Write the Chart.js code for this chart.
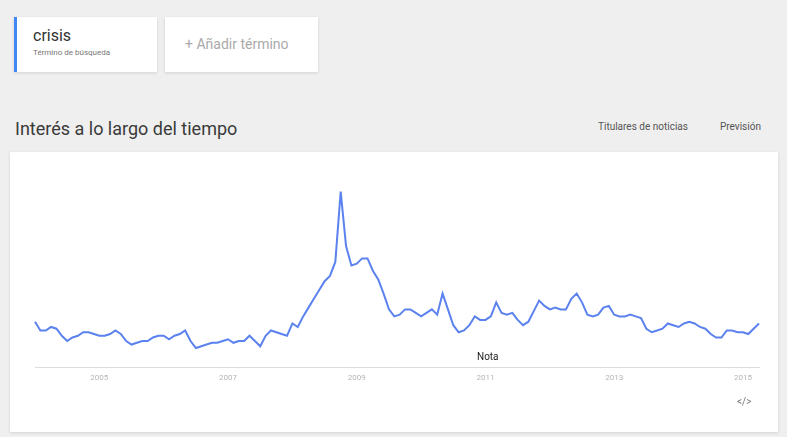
<!DOCTYPE html>
<html>
<head>
<meta charset="utf-8">
<style>
    body { margin: 0; width: 787px; height: 437px; background: #efefef; font-family: Roboto, Arial, sans-serif; position: relative; overflow: hidden; }
    .card { position: absolute; background: #fff; box-shadow: 0 1px 3px rgba(0,0,0,0.12); }
    .term { left: 14px; top: 17px; width: 143px; height: 55px; border-left: 3px solid #4285f4; box-sizing: border-box; }
    .term .name { position: absolute; left: 16px; top: 9px; font-size: 16px; color: #333; }
    .term .sub { position: absolute; left: 16px; top: 31px; font-size: 8px; color: #777; }
    .add { left: 165px; top: 17px; width: 153px; height: 55px; }
    .add span { position: absolute; left: 20px; top: 19px; font-size: 14px; color: #aaa; }
    .title { position: absolute; left: 15px; top: 118px; font-size: 18px; color: #3a3a3a; }
    .opts { position: absolute; top: 121px; font-size: 10px; color: #555; }
    .main { left: 10px; top: 152px; width: 768px; height: 280px; }
    .nota { position: absolute; left: 477px; top: 351px; font-size: 10px; color: #222; }
    .embed { position: absolute; left: 737px; top: 396px; font-size: 10px; color: #777; }
</style>
</head>
<body>
    <div class="card term"><div class="name">crisis</div><div class="sub">Término de búsqueda</div></div>
    <div class="card add"><span>+ Añadir término</span></div>
    <div class="title">Interés a lo largo del tiempo</div>
    <div class="opts" style="left:598px">Titulares de noticias</div>
    <div class="opts" style="left:720px">Previsión</div>
    <div class="card main"><canvas id="myChart" width="768" height="280"></canvas></div>
    <div class="nota">Nota</div>
    <div class="embed">&lt;/&gt;</div>

    <script src="https://cdn.jsdelivr.net/npm/chart.js"></script>
    <script>
        // datos mensuales, ene 2004 - abr 2015
        const months = [];
        for (let y = 2004; y <= 2015; y++) {
            for (let m = 1; m <= 12; m++) {
                if (y === 2015 && m > 4) break;
                months.push(y + '-' + String(m).padStart(2, '0'));
            }
        }

        const interest = [
            26, 21, 21, 23, 22, 18, 15, 17, 18, 20, 20, 19,
            18, 18, 19, 21, 19, 15, 13, 14, 15, 15, 17, 18,
            18, 16, 18, 19, 21, 15, 11, 12, 13, 14, 14, 15,
            16, 14, 15, 15, 18, 15, 12, 18, 21, 20, 19, 18,
            25, 23, 29, 34, 39, 44, 49, 52, 60, 100, 69, 58,
            59, 62, 62, 55, 50, 42, 33, 29, 30, 33, 33, 31,
            29, 31, 33, 30, 42, 33, 24, 20, 21, 24, 29, 27,
            27, 29, 37, 31, 30, 31, 27, 24, 26, 32, 38, 35,
            33, 34, 33, 33, 39, 42, 37, 30, 29, 30, 34, 35,
            30, 29, 29, 30, 29, 28, 22, 20, 21, 22, 25, 24,
            23, 25, 26, 25, 23, 22, 19, 17, 17, 21, 21, 20,
            20, 19, 22, 25
        ];

        const yearTicks = ['2005', '2007', '2009', '2011', '2013', '2015'];

        const chartCanvas = document.querySelector('#myChart');

        new Chart(chartCanvas, {
            type: 'line',
            data: {
                labels: months,
                datasets: [{
                    label: 'crisis',
                    data: interest,
                    borderColor: '#5b82ee',
                    borderWidth: 2,
                    pointRadius: 0,
                    tension: 0,
                    fill: false
                }]
            },
            options: {
                responsive: false,
                animation: false,
                layout: { padding: { left: 25, right: 19, top: 22, bottom: 43 } },
                plugins: { legend: { display: false }, tooltip: { enabled: false } },
                scales: {
                    x: {
                        offset: false,
                        grid: { display: false, drawTicks: false },
                        border: { display: true, color: '#dcdcdc', width: 1 },
                        ticks: {
                            autoSkip: false,
                            maxRotation: 0,
                            padding: 6,
                            color: '#b5b5b5',
                            font: { size: 8, family: 'Roboto' },
                            callback: function (value) {
                                const lab = this.getLabelForValue(value);
                                const [yr, mo] = lab.split('-');
                                return (mo === '01' && yearTicks.includes(yr)) ? yr : '';
                            }
                        }
                    },
                    y: {
                        display: false,
                        min: 0,
                        max: 110
                    }
                }
            }
        });
    </script>
</body>
</html>
